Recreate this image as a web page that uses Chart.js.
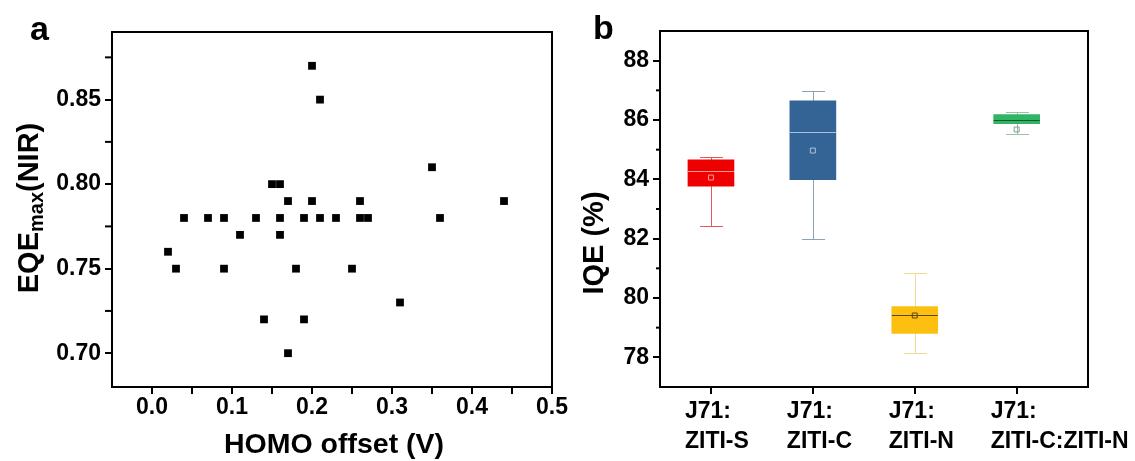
<!DOCTYPE html>
<html>
<head>
<meta charset="utf-8">
<script src="https://cdn.jsdelivr.net/npm/chart.js@4.4.0/dist/chart.umd.min.js"></script>
<style>
  html, body { margin: 0; padding: 0; background: #fff; }
  #wrap { position: relative; width: 1135px; height: 461px; }
  #chartA { position: absolute; left: 0; top: 0; }
  #chartB { position: absolute; left: 580px; top: 0; }
</style>
</head>
<body>
<div id="wrap">
  <canvas id="chartA" width="580" height="461"></canvas>
  <canvas id="chartB" width="555" height="461"></canvas>
</div>
<script>
// panel a: HOMO offset vs EQEmax
const homoOffset = [0.02, 0.03, 0.04, 0.07, 0.09, 0.09, 0.11, 0.13, 0.14, 0.15, 0.16, 0.16, 0.16,
  0.17, 0.17, 0.18, 0.19, 0.19, 0.20, 0.20, 0.21, 0.21, 0.23, 0.25, 0.26, 0.26, 0.27, 0.31, 0.35, 0.36, 0.44];
const eqeMax = [0.76, 0.75, 0.78, 0.78, 0.78, 0.75, 0.77, 0.78, 0.72, 0.80, 0.80, 0.78, 0.77,
  0.79, 0.70, 0.75, 0.78, 0.72, 0.87, 0.79, 0.85, 0.78, 0.78, 0.75, 0.79, 0.78, 0.78, 0.73, 0.81, 0.78, 0.79];
const xTicksA = [0.0, 0.1, 0.2, 0.3, 0.4, 0.5];
const xMinorA = [0.05, 0.15, 0.25, 0.35, 0.45];
const yTicksA = [0.70, 0.75, 0.80, 0.85];
const yMinorA = [0.725, 0.775, 0.825, 0.875];

// panel b: IQE box plot
const groupLabels = [['J71:', 'ZITI-S'], ['J71:', 'ZITI-C'], ['J71:', 'ZITI-N'], ['J71:', 'ZITI-C:ZITI-N']];
const groupPos = [1, 2, 3, 4];
const whiskerLow = [82.44, 81.99, 78.14, 85.52];
const q1 = [83.77, 83.99, 78.81, 85.88];
const median = [84.27, 85.61, 79.43, 86.00];
const q3 = [84.66, 86.65, 79.71, 86.18];
const whiskerHigh = [84.75, 86.98, 80.85, 86.28];
const mean = [84.06, 84.97, 79.41, 85.68];
const yTicksB = [78, 80, 82, 84, 86, 88];
const yMinorB = [79, 81, 83, 85, 87];

const boxColors = ['#ee0000', '#336495', '#fdc010', '#30b565'];
const whiskerColors = ['#e05a5a', '#8aa2ba', '#eedc90', '#94c4a6'];
const medianColors = ['#ff9a9a', '#a9c2dd', '#5a4715', '#17552e'];
const meanColors = ['#ff9a9a', '#a9c2dd', '#5a4715', '#8a9a90'];

const FONT = '"Liberation Sans", Arial, sans-serif';

// frame, minor ticks and free text
const decorPlugin = {
  id: 'decor',
  afterDraw(chart, args, opts) {
    const { ctx, chartArea: a, scales } = chart;
    ctx.save();
    ctx.strokeStyle = '#000';
    ctx.lineWidth = 2;
    ctx.strokeRect(a.left, a.top, a.right - a.left, a.bottom - a.top);
    (opts.minorX || []).forEach(v => {
      const px = scales.x.getPixelForValue(v);
      ctx.beginPath(); ctx.moveTo(px, a.bottom); ctx.lineTo(px, a.bottom + opts.minorLen); ctx.stroke();
    });
    (opts.minorY || []).forEach(v => {
      const py = scales.y.getPixelForValue(v);
      ctx.beginPath(); ctx.moveTo(a.left, py); ctx.lineTo(a.left - opts.minorLen, py); ctx.stroke();
    });
    ctx.fillStyle = '#000';
    (opts.texts || []).forEach(t => {
      ctx.save();
      ctx.translate(t.x, t.y);
      ctx.rotate(t.rot || 0);
      let total = 0;
      t.parts.forEach(p => { ctx.font = 'bold ' + p.size + 'px ' + FONT; total += ctx.measureText(p.text).width; });
      let cx = t.align === 'left' ? 0 : -total / 2;
      ctx.textBaseline = 'alphabetic';
      ctx.textAlign = 'left';
      t.parts.forEach(p => {
        ctx.font = 'bold ' + p.size + 'px ' + FONT;
        ctx.fillText(p.text, cx, p.dy || 0);
        cx += ctx.measureText(p.text).width;
      });
      ctx.restore();
    });
    ctx.restore();
  }
};

// whiskers below boxes, medians and group labels on top
const boxPlugin = {
  id: 'boxParts',
  beforeDatasetsDraw(chart) {
    const { ctx, scales: { x, y } } = chart;
    ctx.save();
    ctx.lineWidth = 1;
    groupPos.forEach((g, i) => {
      const cx = Math.round(x.getPixelForValue(g)) + 0.5;
      const lo = Math.round(y.getPixelForValue(whiskerLow[i])) + 0.5;
      const hi = Math.round(y.getPixelForValue(whiskerHigh[i])) + 0.5;
      ctx.strokeStyle = whiskerColors[i];
      ctx.beginPath();
      ctx.moveTo(cx, lo); ctx.lineTo(cx, hi);
      ctx.moveTo(cx - 11.5, lo); ctx.lineTo(cx + 11.5, lo);
      ctx.moveTo(cx - 11.5, hi); ctx.lineTo(cx + 11.5, hi);
      ctx.stroke();
    });
    ctx.restore();
  },
  afterDatasetsDraw(chart) {
    const { ctx, scales: { x, y } } = chart;
    ctx.save();
    ctx.lineWidth = 1;
    groupPos.forEach((g, i) => {
      const cx = x.getPixelForValue(g);
      const my = Math.round(y.getPixelForValue(median[i])) + 0.5;
      ctx.strokeStyle = medianColors[i];
      ctx.beginPath(); ctx.moveTo(cx - 23, my); ctx.lineTo(cx + 23, my); ctx.stroke();
    });
    ctx.fillStyle = '#000';
    ctx.font = 'bold 23px ' + FONT;
    ctx.textAlign = 'left';
    ctx.textBaseline = 'alphabetic';
    groupPos.forEach((g, i) => {
      const lx = x.getPixelForValue(g) - 26;
      groupLabels[i].forEach((line, k) => ctx.fillText(line, lx, chart.chartArea.bottom + 31 + k * 30));
    });
    ctx.restore();
  }
};

const tickFont = { family: FONT, size: 23, weight: 'bold' };
const majorGrid = { drawOnChartArea: false, drawTicks: true, tickLength: 7, lineWidth: 2, color: '#000' };

new Chart(document.getElementById('chartA'), {
  type: 'scatter',
  data: {
    datasets: [{
      data: homoOffset.map((v, i) => ({ x: v, y: eqeMax[i] })),
      pointStyle: 'rect',
      pointRadius: 5.5,
      backgroundColor: '#000',
      borderWidth: 0
    }]
  },
  options: {
    responsive: false,
    animation: false,
    devicePixelRatio: 1,
    layout: { padding: { left: 0, top: 32, right: 28, bottom: 0 } },
    plugins: {
      legend: { display: false },
      tooltip: { enabled: false },
      decor: {
        minorX: xMinorA, minorY: yMinorA, minorLen: 7,
        texts: [
          { x: 30, y: 40, align: 'left', parts: [{ text: 'a', size: 34 }] },
          { x: 334, y: 453, parts: [{ text: 'HOMO offset (V)', size: 28.5 }] },
          { x: 38, y: 208, rot: -Math.PI / 2, parts: [
            { text: 'EQE', size: 29 }, { text: 'max', size: 20, dy: 5 }, { text: '(NIR)', size: 29 }] }
        ]
      }
    },
    scales: {
      x: {
        type: 'linear', min: -0.05, max: 0.5,
        afterBuildTicks: s => { s.ticks = xTicksA.map(v => ({ value: v })); },
        afterFit: s => { s.height = 74; },
        grid: majorGrid,
        border: { display: false },
        ticks: { padding: 0, color: '#000', font: tickFont, callback: v => v.toFixed(1) }
      },
      y: {
        type: 'linear', min: 0.68, max: 0.89,
        afterBuildTicks: s => { s.ticks = yTicksA.map(v => ({ value: v })); },
        afterFit: s => { s.width = 112; },
        grid: majorGrid,
        border: { display: false },
        ticks: { padding: 4, color: '#000', font: tickFont, callback: v => v.toFixed(2) }
      }
    }
  },
  plugins: [decorPlugin]
});

new Chart(document.getElementById('chartB'), {
  type: 'bar',
  data: {
    datasets: [
      {
        type: 'scatter',
        order: 1,
        data: groupPos.map((g, i) => ({ x: g, y: mean[i] })),
        pointStyle: 'rect',
        pointRadius: 3.5,
        backgroundColor: 'rgba(0,0,0,0)',
        borderColor: meanColors,
        borderWidth: 1
      },
      {
        type: 'bar',
        order: 2,
        data: groupPos.map((g, i) => ({ x: g, y: [q1[i], q3[i]] })),
        backgroundColor: boxColors,
        borderWidth: 0,
        barThickness: 46
      }
    ]
  },
  options: {
    responsive: false,
    animation: false,
    devicePixelRatio: 1,
    layout: { padding: { left: 0, top: 31, right: 47, bottom: 0 } },
    plugins: {
      legend: { display: false },
      tooltip: { enabled: false },
      decor: {
        minorY: yMinorB, minorLen: 4,
        texts: [
          { x: 13, y: 39, align: 'left', parts: [{ text: 'b', size: 34 }] },
          { x: 23, y: 243, rot: -Math.PI / 2, parts: [{ text: 'IQE (%)', size: 29 }] }
        ]
      }
    },
    scales: {
      x: {
        type: 'linear', min: 0.5, max: 4.7, offset: false,
        afterBuildTicks: s => { s.ticks = groupPos.map(v => ({ value: v })); },
        afterFit: s => { s.height = 74; },
        grid: Object.assign({}, majorGrid, { offset: false }),
        border: { display: false },
        ticks: { display: false }
      },
      y: {
        type: 'linear', min: 77, max: 89,
        afterBuildTicks: s => { s.ticks = yTicksB.map(v => ({ value: v })); },
        afterFit: s => { s.width = 80; },
        grid: majorGrid,
        border: { display: false },
        ticks: { padding: 4, color: '#000', font: tickFont }
      }
    }
  },
  plugins: [decorPlugin, boxPlugin]
});
</script>
</body>
</html>
